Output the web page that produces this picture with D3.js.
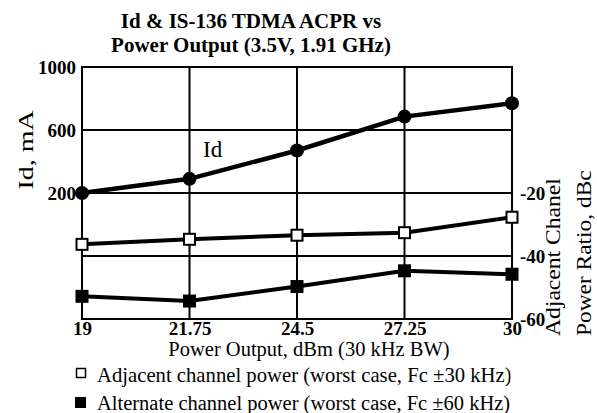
<!DOCTYPE html>
<html><head><meta charset="utf-8">
<script src="https://cdn.jsdelivr.net/npm/d3@7"></script>
<style>body{margin:0;background:#fff}svg{display:block}text{font-family:"Liberation Serif","Times New Roman",serif;fill:#000}</style>
</head><body>
<script>
const xTicks = [19, 21.75, 24.5, 27.25, 30];
const xTickLabels = ["19", "21.75", "24.5", "27.25", "30"];
const powerOut = [19, 21.75, 24.5, 27.25, 30];
const idValues = [200, 290, 470, 685, 770];
const adjacentValues = [-36.3, -34.7, -33.4, -32.6, -27.7];
const alternateValues = [-52.8, -54.3, -49.7, -44.7, -45.8];
const leftTicks = [200, 600, 1000];
const leftTickLabels = ["200", "600", "1000"];
const rightTicks = [-60, -40, -20];
const rightTickLabels = ["-60", "-40", "-20"];
const titleLines = ["Id & IS-136 TDMA ACPR vs", "Power Output (3.5V, 1.91 GHz)"];
const legendLabels = ["Adjacent channel power (worst case, Fc \u00b130 kHz)", "Alternate channel power (worst case, Fc \u00b160 kHz)"];

const W = 597, H = 413;
const m = {l: 82, r: 512, t: 67, b: 319};
const svg = d3.select("body").append("svg").attr("width", W).attr("height", H);

const x = d3.scaleLinear().domain([19, 30]).range([m.l, m.r]);
const yL = d3.scaleLinear().domain([-600, 1000]).range([m.b, m.t]);
const yR = d3.scaleLinear().domain([-60, 20]).range([m.b, m.t]);

// grid
const g = svg.append("g");
g.selectAll(".vg").data(xTicks).join("line")
  .attr("x1", d => x(d)).attr("x2", d => x(d)).attr("y1", m.t).attr("y2", m.b)
  .attr("stroke", "#000").attr("stroke-width", 2);
g.selectAll(".hl").data(leftTicks).join("line")
  .attr("x1", m.l).attr("x2", m.r).attr("y1", d => yL(d)).attr("y2", d => yL(d))
  .attr("stroke", "#000").attr("stroke-width", 2);
g.selectAll(".hr").data(rightTicks).join("line")
  .attr("x1", m.l).attr("x2", m.r).attr("y1", d => yR(d)).attr("y2", d => yR(d))
  .attr("stroke", "#000").attr("stroke-width", 2);

// axes
const tickFs = 19;
const axL = svg.append("g").attr("transform", `translate(${m.l},0)`)
  .call(d3.axisLeft(yL).tickValues(leftTicks).tickFormat((d, i) => leftTickLabels[i]).tickSize(0).tickPadding(6));
const axR = svg.append("g").attr("transform", `translate(${m.r},0)`)
  .call(d3.axisRight(yR).tickValues(rightTicks).tickFormat((d, i) => rightTickLabels[i]).tickSize(0).tickPadding(8));
const axB = svg.append("g").attr("transform", `translate(0,${m.b})`)
  .call(d3.axisBottom(x).tickValues(xTicks).tickFormat((d, i) => xTickLabels[i]).tickSize(0).tickPadding(6));
[axL, axR, axB].forEach(a => {
  a.select(".domain").remove();
  a.selectAll("text").attr("font-family", "Liberation Serif, serif").attr("font-size", tickFs)
    .attr("font-weight", "bold").attr("fill", "#000");
});
axB.selectAll("text").attr("y", 16).attr("dy", 0);
svg.append("rect").attr("x", m.l).attr("y", m.t).attr("width", m.r - m.l).attr("height", m.b - m.t)
  .attr("fill", "none").attr("stroke", "#000").attr("stroke-width", 2);

// lines
const lineL = d3.line().x((d, i) => x(powerOut[i])).y(d => yL(d));
const lineR = d3.line().x((d, i) => x(powerOut[i])).y(d => yR(d));
svg.append("path").attr("d", lineL(idValues)).attr("fill", "none").attr("stroke", "#000").attr("stroke-width", 4.5);
svg.append("path").attr("d", lineR(adjacentValues)).attr("fill", "none").attr("stroke", "#000").attr("stroke-width", 4);
svg.append("path").attr("d", lineR(alternateValues)).attr("fill", "none").attr("stroke", "#000").attr("stroke-width", 4);

svg.selectAll(".cid").data(idValues).join("circle")
  .attr("cx", (d, i) => x(powerOut[i])).attr("cy", d => yL(d)).attr("r", 7).attr("fill", "#000");
const s1 = 11;
svg.selectAll(".adj").data(adjacentValues).join("rect")
  .attr("x", (d, i) => x(powerOut[i]) - s1 / 2).attr("y", d => yR(d) - s1 / 2)
  .attr("width", s1).attr("height", s1).attr("fill", "#fff").attr("stroke", "#000").attr("stroke-width", 2);
const s2 = 13;
svg.selectAll(".alt").data(alternateValues).join("rect")
  .attr("x", (d, i) => x(powerOut[i]) - s2 / 2).attr("y", d => yR(d) - s2 / 2)
  .attr("width", s2).attr("height", s2).attr("fill", "#000");

// texts
svg.selectAll(".title").data(titleLines).join("text")
  .attr("x", 251).attr("y", (d, i) => 28 + i * 24).attr("text-anchor", "middle")
  .attr("font-size", 21).attr("font-weight", "bold").text(d => d);

svg.append("text").attr("x", 203).attr("y", 157).attr("font-size", 23).text("Id");

svg.append("text").attr("transform", "translate(33,150) rotate(-90) scale(1.27,1)").attr("text-anchor", "middle")
  .attr("font-size", 22).text("Id, mA");
svg.append("text").attr("transform", "translate(560,336) rotate(-90) scale(1.18,1)")
  .attr("font-size", 20).text("Adjacent Chanel");
svg.append("text").attr("transform", "translate(591,336) rotate(-90) scale(1.17,1)")
  .attr("font-size", 20).text("Power Ratio, dBc");

svg.append("text").attr("x", 309).attr("y", 356).attr("text-anchor", "middle")
  .attr("font-size", 20.5).text("Power Output, dBm (30 kHz BW)");

// legend
svg.append("clipPath").attr("id", "lc").append("rect").attr("x", 0).attr("y", 360).attr("width", 510.5).attr("height", 53);
const lg = svg.append("g");
lg.append("rect").attr("x", 76.5).attr("y", 368.5).attr("width", 9).attr("height", 9)
  .attr("fill", "#fff").attr("stroke", "#000").attr("stroke-width", 1.5);
lg.append("rect").attr("x", 75).attr("y", 397).attr("width", 11).attr("height", 11).attr("fill", "#000");
lg.selectAll(".lt").data(legendLabels).join("text")
  .attr("x", 97).attr("y", (d, i) => 382 + i * 28).attr("font-size", (d, i) => i ? 20.5 : 20.7)
  .attr("clip-path", "url(#lc)").text(d => d);
</script>
</body></html>
